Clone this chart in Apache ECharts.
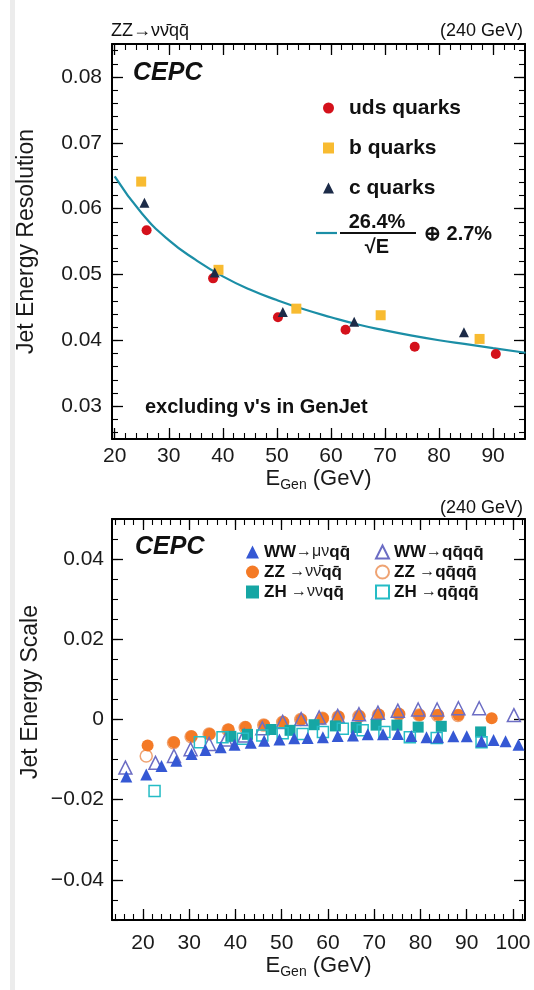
<!DOCTYPE html>
<html>
<head>
<meta charset="utf-8">
<script src="https://cdn.jsdelivr.net/npm/echarts@6/dist/echarts.min.js"></script>
<style>
  html, body { margin: 0; padding: 0; background: #fff; }
  #main { width: 534px; height: 990px; }
</style>
</head>
<body>
<div id="main"></div>
<script>
// ---- top panel: jet energy resolution, ZZ -> vv qq ----
const topEMajor = [20, 30, 40, 50, 60, 70, 80, 90];
const topResMajor = [0.03, 0.04, 0.05, 0.06, 0.07, 0.08];

const udsE = [25.9, 38.2, 50.2, 62.7, 75.5, 90.5];
const udsRes = [0.0567, 0.0494, 0.0435, 0.0416, 0.0390, 0.0379];
const bE = [24.9, 39.2, 53.6, 69.2, 87.5];
const bRes = [0.0641, 0.0507, 0.0448, 0.0438, 0.0402];
const cE = [25.5, 38.5, 51.1, 64.3, 84.6];
const cRes = [0.0609, 0.0503, 0.0443, 0.0428, 0.0412];
// fit curve
const fitE = [20, 25, 30, 35, 40, 45, 50, 55, 60, 65, 70, 75, 80, 85, 90, 96];
const fitRes = [0.0649, 0.0593, 0.0552, 0.0522, 0.0497, 0.0477, 0.0461, 0.0447,
                0.0435, 0.0424, 0.0415, 0.0407, 0.0400, 0.0394, 0.0388, 0.0381];

// ---- bottom panel: jet energy scale ----
const botEMajor = [20, 30, 40, 50, 60, 70, 80, 90, 100];
const botJesMajor = [-0.04, -0.02, 0, 0.02, 0.04];

const wwLepE = [16.4, 20.7, 24.0, 27.2, 30.5, 33.5, 36.8, 39.8, 43.3, 46.2, 49.5, 52.7, 55.6, 58.9,
                62.1, 65.4, 68.6, 71.9, 75.1, 78.0, 81.3, 83.8, 87.1, 90.0, 93.2, 95.8, 98.4, 101.2];
const wwLepJes = [-0.0142, -0.0137, -0.0116, -0.0103, -0.0086, -0.0076, -0.0069, -0.0063, -0.0058, -0.0053,
                  -0.0050, -0.0047, -0.0046, -0.0044, -0.0041, -0.0040, -0.0037, -0.0037, -0.0036, -0.0041,
                  -0.0044, -0.0044, -0.0042, -0.0042, -0.0054, -0.0051, -0.0054, -0.0063];
const wwHadE = [16.2, 22.7, 26.7, 30.3, 34.3, 37.9, 41.9, 45.8, 50.2, 54.2, 58.1, 62.1, 66.7, 70.8,
                75.1, 79.5, 83.6, 88.2, 92.7, 100.2];
const wwHadJes = [-0.0120, -0.0108, -0.0091, -0.0074, -0.0061, -0.0050, -0.0040, -0.0022, -0.0006, 0.0001,
                  0.0005, 0.0009, 0.0013, 0.0017, 0.0022, 0.0025, 0.0025, 0.0028, 0.0028, 0.0011];
const zzNuE = [21.0, 26.7, 30.5, 34.4, 38.5, 42.2, 46.2, 50.3, 54.2, 58.9, 62.3, 66.8, 71.0, 75.4,
               79.8, 83.8, 88.2, 95.4];
const zzNuJes = [-0.0065, -0.0057, -0.0042, -0.0036, -0.0025, -0.0019, -0.0014, -0.0006, 0.0000, 0.0003,
                 0.0007, 0.0008, 0.0012, 0.0014, 0.0011, 0.0011, 0.0011, 0.0003];
const zzHadE = [20.7, 26.6, 30.4, 34.3, 38.4, 42.1, 46.1, 50.2, 54.1, 58.8, 62.2, 66.7, 70.9, 75.3, 79.7, 83.7, 88.1];
const zzHadJes = [-0.0091, -0.0058, -0.0043, -0.0036, -0.0026, -0.0020, -0.0014, -0.0007, 0.0000, 0.0003,
                  0.0006, 0.0008, 0.0011, 0.0013, 0.0011, 0.0010, 0.0010];
const zhNuE = [39.0, 42.6, 47.7, 51.8, 57.0, 61.6, 66.1, 70.4, 74.9, 79.5, 84.5, 93.0];
const zhNuJes = [-0.0042, -0.0037, -0.0025, -0.0027, -0.0013, -0.0016, -0.0020, -0.0014, -0.0014, -0.0019, -0.0017, -0.0031];
const zhHadE = [22.5, 32.3, 37.2, 41.6, 45.8, 50.2, 54.5, 58.9, 63.2, 67.5, 72.2, 77.7, 83.5, 93.2];
const zhHadJes = [-0.0178, -0.0057, -0.0044, -0.0048, -0.0040, -0.0034, -0.0036, -0.0031, -0.0023, -0.0027,
                  -0.0031, -0.0044, -0.0046, -0.0057];

const qqbar = 'qq\u0304';
const botNames = [
  'WW\u2192\u03bc\u03bd' + qqbar,
  'ZZ \u2192\u03bd\u03bd\u0304' + qqbar,
  'ZH \u2192\u03bd\u03bd' + qqbar,
  'WW\u2192' + qqbar + qqbar,
  'ZZ \u2192' + qqbar + qqbar,
  'ZH \u2192' + qqbar + qqbar
];

const FONT = '"Liberation Sans", Arial, Helvetica, sans-serif';

function range(a, b, step) {
  const out = [];
  for (let v = a; v <= b + 1e-9; v += step) out.push(+v.toFixed(6));
  return out;
}
const pairs = (xs, ys) => xs.map((x, i) => [x, ys[i]]);

const egenName = '{a|E}{s|Gen}{a| (GeV)}';
const egenStyle = {
  color: '#1a1a1a', fontFamily: FONT,
  rich: {
    a: { fontSize: 22, lineHeight: 26, fontFamily: FONT, color: '#1a1a1a', verticalAlign: 'middle' },
    s: { fontSize: 14, lineHeight: 14, fontFamily: FONT, color: '#1a1a1a', verticalAlign: 'bottom' }
  }
};

function frameAxes(dim, grid, min, max, majors, minors, main) {
  const pos = dim === 'x' ? ['bottom', 'top'] : ['left', 'right'];
  const base = { type: 'value', gridIndex: grid, min: min, max: max, splitLine: { show: false } };
  const tickMajor = { inside: true, length: 11, customValues: majors, lineStyle: { color: '#000', width: 1.3 } };
  const tickMinor = { inside: true, length: 6, customValues: minors, lineStyle: { color: '#000', width: 1.1 } };
  return [
    Object.assign({}, base, {
      position: pos[0],
      axisLine: { onZero: false, lineStyle: { color: '#000', width: 2 } },
      axisTick: tickMajor,
      axisLabel: Object.assign({ customValues: majors, fontSize: 21, color: '#1a1a1a', fontFamily: FONT }, main.label)
    }, main.extra || {}),
    Object.assign({}, base, {
      position: pos[0],
      axisLine: { show: false, onZero: false },
      axisTick: tickMinor,
      axisLabel: { show: false }
    }),
    Object.assign({}, base, {
      position: pos[1],
      axisLine: { onZero: false, lineStyle: { color: '#000', width: 2 } },
      axisTick: tickMajor,
      axisLabel: { show: false }
    }),
    Object.assign({}, base, {
      position: pos[1],
      axisLine: { show: false, onZero: false },
      axisTick: tickMinor,
      axisLabel: { show: false }
    })
  ];
}

const xAxes = [].concat(
  frameAxes('x', 0, 19.5, 95.9, topEMajor, range(20, 94, 2), {
    label: { margin: 7 },
    extra: { name: egenName, nameLocation: 'middle', nameGap: 27, nameTextStyle: egenStyle }
  }),
  frameAxes('x', 1, 13.3, 102.6, botEMajor, range(14, 102, 2), {
    label: { margin: 13 },
    extra: { name: egenName, nameLocation: 'middle', nameGap: 33, nameTextStyle: egenStyle }
  })
);

const yAxes = [].concat(
  frameAxes('y', 0, 0.025, 0.085, topResMajor, range(0.026, 0.084, 0.002), {
    label: { margin: 10, formatter: v => v.toFixed(2) },
    extra: {
      name: 'Jet Energy Resolution', nameLocation: 'middle', nameGap: 74, nameRotate: 90,
      nameTextStyle: { fontSize: 23, color: '#1a1a1a', fontFamily: FONT }
    }
  }),
  frameAxes('y', 1, -0.05, 0.05, botJesMajor, range(-0.05, 0.05, 0.005), {
    label: { margin: 8, formatter: v => v === 0 ? '0' : (v < 0 ? '\u2212' : '') + Math.abs(v).toFixed(2) }
  })
);

function scatter(name, grid, xs, ys, symbol, size, style, z) {
  return {
    type: 'scatter', name: name,
    xAxisIndex: grid * 4, yAxisIndex: grid * 4,
    symbol: symbol, symbolSize: size,
    itemStyle: Object.assign({ opacity: 1 }, style), z: z,
    data: pairs(xs, ys)
  };
}

const openStyle = c => ({ color: 'rgba(0,0,0,0)', borderColor: c, borderWidth: 1.5 });

const series = [
  {
    type: 'line', name: 'fit', xAxisIndex: 0, yAxisIndex: 0,
    data: pairs(fitE, fitRes), smooth: true, symbol: 'none',
    lineStyle: { color: '#1b8ea6', width: 2.2 }, z: 2
  },
  scatter('uds quarks', 0, udsE, udsRes, 'circle', 10, { color: '#d4111b' }, 3),
  scatter('b quarks', 0, bE, bRes, 'rect', 10, { color: '#f8bb31' }, 3),
  scatter('c quarks', 0, cE, cRes, 'triangle', 10, { color: '#1c2b48' }, 4),

  scatter(botNames[4], 1, zzHadE, zzHadJes, 'circle', 12, openStyle('#efa373'), 2),
  scatter(botNames[1], 1, zzNuE, zzNuJes, 'circle', 12, { color: '#f47a26' }, 3),
  scatter(botNames[3], 1, wwHadE, wwHadJes, 'triangle', 13, openStyle('#6c6dc4'), 4),
  scatter(botNames[2], 1, zhNuE, zhNuJes, 'rect', 11, { color: '#16a6a4' }, 5),
  scatter(botNames[5], 1, zhHadE, zhHadJes, 'rect', 11, openStyle('#25bcc5'), 6),
  scatter(botNames[0], 1, wwLepE, wwLepJes, 'triangle', 12, { color: '#3558d4' }, 7)
];

const botLegendText = {
  fontFamily: FONT, color: '#111', lineHeight: 20,
  rich: {
    b: { fontSize: 17, fontWeight: 'bold', fontFamily: FONT, color: '#111' },
    n: { fontSize: 16, fontWeight: 'normal', fontFamily: FONT, color: '#222' }
  }
};
function botLegendFormat(name) {
  const m = name.match(/^(\w+)(\s?\u2192[^q]*)(.*)$/);
  return m ? '{b|' + m[1] + '}{n|' + m[2] + '}{b|' + m[3] + '}' : name;
}

const legend = [
  {
    data: ['uds quarks', 'b quarks', 'c quarks'],
    orient: 'vertical', left: 318, top: 91,
    itemWidth: 11, itemHeight: 11, itemGap: 16, selectedMode: false,
    textStyle: { fontSize: 21, fontWeight: 'bold', color: '#111', fontFamily: FONT, lineHeight: 24, padding: [0, 0, 0, 10] }
  },
  {
    data: botNames.slice(0, 3),
    orient: 'vertical', left: 241, top: 537,
    itemWidth: 13, itemHeight: 13, itemGap: 0, selectedMode: false,
    formatter: botLegendFormat, textStyle: botLegendText
  },
  {
    data: botNames.slice(3),
    orient: 'vertical', left: 370, top: 537,
    itemWidth: 13, itemHeight: 13, itemGap: 0, selectedMode: false,
    formatter: botLegendFormat, textStyle: botLegendText
  }
];

const txt = (x, y, text, font, align, extra) => ({
  type: 'text', x: x, y: y, silent: true,
  style: Object.assign({ text: text, font: font, fill: '#111', align: align || 'left', verticalAlign: 'middle' }, extra || {})
});

const graphic = [
  { type: 'rect', shape: { x: 10, y: 0, width: 5, height: 990 }, style: { fill: '#ececec' }, silent: true },
  // top panel header
  txt(111, 31, 'ZZ\u2192\u03bd\u03bd\u0304' + qqbar, '18px ' + FONT),
  txt(523, 31, '(240 GeV)', '18px ' + FONT, 'right'),
  txt(133, 73, 'CEPC', 'italic bold 25px ' + FONT),
  txt(145, 407, 'excluding \u03bd\'s in GenJet', 'bold 20px ' + FONT),
  // fit legend entry
  { type: 'line', shape: { x1: 316, y1: 233, x2: 337, y2: 233 }, style: { stroke: '#1b8ea6', lineWidth: 2.2 }, silent: true },
  { type: 'line', shape: { x1: 340, y1: 233, x2: 416, y2: 233 }, style: { stroke: '#111', lineWidth: 2 }, silent: true },
  txt(377, 222, '26.4%', 'bold 20px ' + FONT, 'center'),
  txt(377, 247, '\u221aE', 'bold 20px ' + FONT, 'center'),
  txt(424, 234, '\u2295 2.7%', 'bold 20px ' + FONT),
  // bottom panel header
  txt(523, 508, '(240 GeV)', '18px ' + FONT, 'right'),
  txt(135, 547, 'CEPC', 'italic bold 25px ' + FONT),
  {
    type: 'text', x: 31, y: 692, rotation: Math.PI / 2, silent: true,
    style: { text: 'Jet Energy Scale', font: '23px ' + FONT, fill: '#1a1a1a', align: 'center', verticalAlign: 'middle' }
  }
];

const chart = echarts.init(document.getElementById('main'), null, { renderer: 'canvas' });
chart.setOption({
  backgroundColor: '#ffffff',
  animation: false,
  grid: [
    { left: 112, top: 44, width: 413, height: 395, outerBoundsMode: 'none' },
    { left: 112, top: 519, width: 413, height: 401, outerBoundsMode: 'none' }
  ],
  xAxis: xAxes,
  yAxis: yAxes,
  legend: legend,
  series: series,
  graphic: graphic
});
</script>
</body>
</html>
